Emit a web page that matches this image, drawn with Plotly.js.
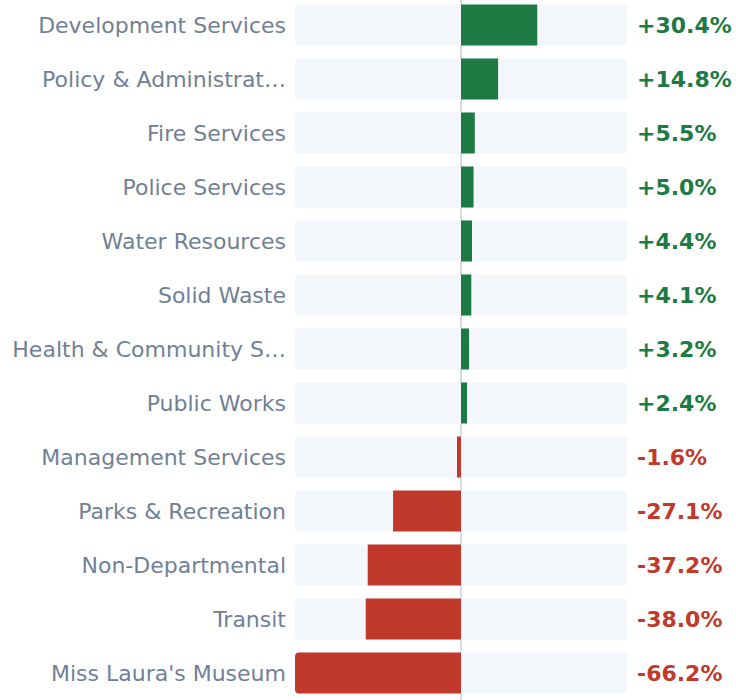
<!DOCTYPE html>
<html>
<head>
<meta charset="utf-8">
<script src="https://cdn.plot.ly/plotly-3.0.1.min.js"></script>
<style>
  html, body { margin: 0; padding: 0; background: #ffffff; }
  #chart { width: 736px; height: 700px; }
</style>
</head>
<body>
<div id="chart"></div>
<script>
const categories = [
  "Development Services",
  "Policy & Administrat\u2026",
  "Fire Services",
  "Police Services",
  "Water Resources",
  "Solid Waste",
  "Health & Community S\u2026",
  "Public Works",
  "Management Services",
  "Parks & Recreation",
  "Non-Departmental",
  "Transit",
  "Miss Laura's Museum"
];
const changePct = [30.4, 14.8, 5.5, 5.0, 4.4, 4.1, 3.2, 2.4, -1.6, -27.1, -37.2, -38.0, -66.2];

const GREEN = "#1d7a43";
const RED = "#c0392b";
const limit = Math.max(...changePct.map(v => Math.abs(v)));

const colors = changePct.map(v => v >= 0 ? GREEN : RED);
const labels = changePct.map(v => (v > 0 ? "+" : "") + v.toFixed(1) + "%");

const track = {
  type: "bar",
  orientation: "h",
  y: categories,
  x: categories.map(() => 2 * limit),
  base: categories.map(() => -limit),
  marker: { color: "#f3f6fb" },
  hoverinfo: "skip",
  showlegend: false
};

const bars = {
  type: "bar",
  orientation: "h",
  y: categories,
  x: changePct,
  marker: { color: colors },
  showlegend: false
};

const annotations = categories.map((c, i) => ({
  xref: "paper",
  yref: "y",
  x: 1,
  y: c,
  xshift: 8,
  xanchor: "left",
  yanchor: "middle",
  showarrow: false,
  text: "<b>" + labels[i] + "</b>",
  font: { family: "DejaVu Sans", size: 22, color: colors[i] }
}));

const layout = {
  width: 736,
  height: 700,
  margin: { l: 295, r: 109, t: 0, b: 0, pad: 0 },
  paper_bgcolor: "#ffffff",
  plot_bgcolor: "#ffffff",
  barmode: "overlay",
  bargap: 0.24,
  barcornerradius: 4,
  font: { family: "DejaVu Sans", size: 22, color: "#718096" },
  xaxis: {
    range: [-limit, limit],
    showgrid: false,
    showticklabels: false,
    zeroline: false,
    fixedrange: true
  },
  yaxis: {
    type: "category",
    range: [12.5, -0.463],
    showgrid: false,
    zeroline: false,
    ticks: "",
    ticklabelstandoff: 8,
    tickfont: { family: "DejaVu Sans", size: 22, color: "#718096" },
    fixedrange: true
  },
  shapes: [{
    type: "line",
    layer: "below",
    xref: "x",
    yref: "paper",
    x0: 0, x1: 0, y0: 0, y1: 1,
    line: { color: "#d8dde6", width: 2 }
  }],
  annotations: annotations,
  showlegend: false
};

Plotly.newPlot("chart", [track, bars], layout, { displayModeBar: false, staticPlot: true });
</script>
</body>
</html>
